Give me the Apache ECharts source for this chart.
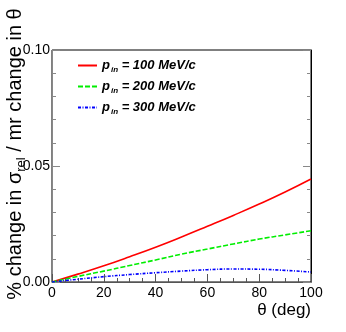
<!DOCTYPE html>
<html>
<head>
<meta charset="utf-8">
<script src="https://cdn.jsdelivr.net/npm/echarts@6/dist/echarts.min.js"></script>
<style>
  html, body { margin: 0; padding: 0; background: #fff; }
  #chart { width: 346px; height: 332px; }
</style>
</head>
<body>
<div id="chart"></div>
<script>
// theta in degrees
var theta = [0, 10, 20, 30, 40, 50, 60, 70, 80, 90, 100];
var p100 = [0, 0.0034, 0.0070, 0.0109, 0.0150, 0.0194, 0.0240, 0.0287, 0.0336, 0.0388, 0.0444];
var p200 = [0, 0.0024, 0.0047, 0.0071, 0.0095, 0.0120, 0.0142, 0.0164, 0.0185, 0.0203, 0.0221];
var p300 = [0, 0.0012, 0.0023, 0.0032, 0.0040, 0.0047, 0.0053, 0.0056, 0.0055, 0.0050, 0.0043];
var momenta = ['100', '200', '300'];
var yTicks = [0, 0.05, 0.10];

function pairs(ys) {
  return theta.map(function (t, i) { return [t, ys[i]]; });
}

var font = 'Liberation Sans, Arial, sans-serif';
var myChart = echarts.init(document.getElementById('chart'));

var legendRich = {
  p: { fontFamily: font, fontSize: 13, fontWeight: 'bold', fontStyle: 'italic', color: '#000' },
  s: { fontFamily: font, fontSize: 8, fontWeight: 'bold', fontStyle: 'italic', color: '#000', verticalAlign: 'bottom', padding: [8, 0, 0, 1] },
  t: { fontFamily: font, fontSize: 13, fontWeight: 'bold', fontStyle: 'italic', color: '#000' }
};

var option = {
  animation: false,
  grid: { left: 52, right: 35, top: 50, bottom: 50, show: true, borderColor: '#000', borderWidth: 1 },
  legend: {
    orient: 'vertical',
    left: 77,
    top: 59,
    padding: 0,
    itemWidth: 19,
    itemHeight: 10,
    itemGap: 6.5,
    itemStyle: { opacity: 0 },
    data: momenta.map(function (m) { return 'p' + m; }),
    formatter: function (name) {
      return '{p|p}{s|in}{t| = ' + name.slice(1) + ' MeV/c}';
    },
    textStyle: { rich: legendRich }
  },
  xAxis: {
    type: 'value',
    min: 0,
    max: 100,
    interval: 20,
    axisLine: { lineStyle: { color: '#555' } },
    axisTick: { inside: true, length: 8, lineStyle: { color: '#555' } },
    minorTick: { show: true, splitNumber: 4, length: 4, lineStyle: { color: '#555' } },
    splitLine: { show: false },
    axisLabel: { fontFamily: font, fontSize: 14, color: '#000', margin: 4 }
  },
  yAxis: [{
    type: 'value',
    min: yTicks[0],
    max: yTicks[2],
    interval: 0.05,
    axisLine: { show: true, lineStyle: { color: '#888' } },
    axisTick: { show: true, inside: true, length: 8, lineStyle: { color: '#888' } },
    minorTick: { show: true, splitNumber: 5, length: 4, lineStyle: { color: '#888' } },
    splitLine: { show: false },
    axisLabel: { fontFamily: font, fontSize: 14, color: '#000', margin: 2, formatter: function (v) { return v.toFixed(2); } }
  }, {
    type: 'value',
    position: 'right',
    min: yTicks[0],
    max: yTicks[2],
    interval: 0.05,
    axisLine: { show: true, lineStyle: { color: '#000' } },
    axisTick: { show: true, inside: true, length: 8, lineStyle: { color: '#888' } },
    minorTick: { show: true, splitNumber: 5, length: 4, lineStyle: { color: '#888' } },
    splitLine: { show: false },
    axisLabel: { show: false }
  }],
  graphic: [{
    type: 'text',
    x: 3,
    y: 154,
    rotation: Math.PI / 2,
    style: {
      text: '% change in {g|σ}{s|rel} / mr change in θ',
      fontFamily: font,
      fontSize: 20,
      fill: '#000',
      align: 'center',
      verticalAlign: 'top',
      rich: {
        g: { fontFamily: font, fontSize: 20, fill: '#000' },
        s: { fontFamily: font, fontSize: 13, fill: '#000', verticalAlign: 'bottom', padding: [12, 0, 0, 0] }
      }
    }
  }, {
    type: 'text',
    right: 35,
    top: 302,
    style: { text: 'θ (deg)', fontFamily: font, fontSize: 17, fill: '#000' }
  }],
  series: [{
    name: 'p100',
    type: 'line',
    data: pairs(p100),
    smooth: true,
    symbol: 'none',
    lineStyle: { color: '#ff0000', width: 1.6, type: 'solid' },
    itemStyle: { color: '#ff0000' }
  }, {
    name: 'p200',
    type: 'line',
    data: pairs(p200),
    smooth: true,
    symbol: 'none',
    lineStyle: { color: '#00ee00', width: 1.6, type: [5, 2] },
    itemStyle: { color: '#00ee00' }
  }, {
    name: 'p300',
    type: 'line',
    data: pairs(p300),
    smooth: true,
    symbol: 'none',
    lineStyle: { color: '#0000ff', width: 1.6, type: [3, 1.5, 1, 1.5] },
    itemStyle: { color: '#0000ff' }
  }]
};

myChart.setOption(option);
</script>
</body>
</html>
